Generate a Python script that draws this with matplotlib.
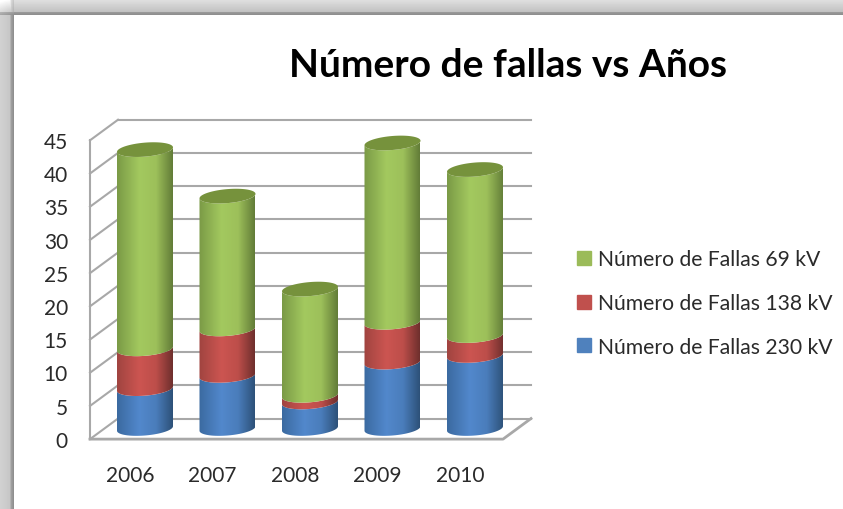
import numpy as np
import matplotlib
matplotlib.use('Agg')
import matplotlib.pyplot as plt
from matplotlib.path import Path
from matplotlib.patches import PathPatch, Patch
from matplotlib.colors import LinearSegmentedColormap

plt.rcParams['font.family'] = ['Lato', 'DejaVu Sans']

years = ['2006', '2007', '2008', '2009', '2010']
fallas_230 = [6, 8, 4, 10, 11]
fallas_138 = [6, 7, 1, 6, 3]
fallas_69 = [30, 20, 16, 27, 25]
yticks = [0, 5, 10, 15, 20, 25, 30, 35, 40, 45]
title = 'Número de fallas vs Años'
series_names = ['Número de Fallas 69 kV', 'Número de Fallas 138 kV', 'Número de Fallas 230 kV']

W, H = 843, 510
X0, DX = 145.0, 82.5     # px of first cylinder centre, px per category
Y0, DY = 429.5, 6.64     # px of value 0 at cylinder depth, px per unit


def ux(px):
    return (px - X0) / DX


def uy(py):
    return (Y0 - py) / DY


fig = plt.figure(figsize=(W / 100, H / 100), dpi=100, facecolor='white')
ax = fig.add_axes([0, 0, 1, 1])
ax.axis('off')

# grey window edge round the chart
gx = np.arange(W)
gy = np.arange(H)
top = np.interp(gy, [0, 12, 13, 15, 16], [0.88, 0.76, 0.60, 0.56, 1.0])
left = np.interp(gx, [0, 9, 11, 13, 14], [0.82, 0.78, 0.62, 0.56, 1.0])
band = np.minimum.outer(top, np.ones(W))
band = np.minimum(band, np.where(gy[:, None] >= 14, left[None, :], 1.0))
band[:16, :14] = np.minimum(top[:16, None], left[None, :14] + 0.12)
corner = np.clip(np.hypot(gx[:14, None] - 14, gy[:16, None].T - 16) / 20, 0, 1)
band[:16, :14] = band[:16, :14] + corner.T * 0.14
ax.imshow(band, cmap='gray', vmin=0, vmax=1, extent=[ux(0), ux(W), uy(H), uy(0)],
          aspect='auto', zorder=0, interpolation='bilinear')

# depth of walls, in axis units
grid = '#a8a8a8'
back_l, back_r = ux(118), ux(531)
front_l, front_r = ux(90), ux(503)
back_dy = 1.5
front_dy = -1.6
for t in yticks:
    ax.plot([back_l, back_r], [t + back_dy] * 2, color=grid, lw=1.5, zorder=1)
    ax.plot([front_l, back_l], [t + front_dy, t + back_dy], color=grid, lw=1.5, zorder=1)
    ax.text(ux(68), t + front_dy - 0.25, str(t), ha='right', va='center', fontsize=15, color='#2a2a2a')
ax.plot([front_l, front_l], [yticks[0] + front_dy, yticks[-1] + front_dy], color=grid, lw=1.5, zorder=1)
ax.plot([front_l, front_r, back_r], [front_dy, front_dy, back_dy], color=grid, lw=2, zorder=1)

for i, y in enumerate(years):
    ax.text(i - 15 / DX, uy(476), y, ha='center', va='center', fontsize=15, color='#2a2a2a')

# cylinders
half_w = 28.0 / DX
half_h = 7.0 / DY
shear = 0.08 * 28.0 / DY
colours = {
    'green': ['#7a9a46', '#a3c95f', '#9dc05a', '#627c38'],
    'red': ['#a04440', '#cc5551', '#bd4e4a', '#6e2f2d'],
    'blue': ['#3b6aa0', '#5288cc', '#4a7dbb', '#2d5178'],
}
cap_colour = '#76923c'


def arc(i, v, t):
    return np.column_stack([i + half_w * np.cos(t), v + half_h * np.sin(t) + shear * np.cos(t)])


def draw_segment(i, lo, hi, name):
    t_lo = np.linspace(np.pi, 2 * np.pi, 40)
    t_hi = t_lo[::-1]
    pts = np.vstack([arc(i, lo, t_lo), arc(i, hi, t_hi)])
    path = Path(np.vstack([pts, pts[0]]), closed=True)
    cmap = LinearSegmentedColormap.from_list(name, list(zip([0, 0.4, 0.7, 1], colours[name])))
    im = ax.imshow(np.linspace(0, 1, 128)[None, :], cmap=cmap, aspect='auto', zorder=3,
                   extent=[i - half_w, i + half_w, lo - half_h - shear, hi + half_h + shear])
    im.set_clip_path(PathPatch(path, transform=ax.transData))


for i in range(len(years)):
    b = fallas_230[i]
    r = b + fallas_138[i]
    g = r + fallas_69[i]
    draw_segment(i, 0, b, 'blue')
    draw_segment(i, b, r, 'red')
    draw_segment(i, r, g, 'green')
    t = np.linspace(0, 2 * np.pi, 80)
    ax.add_patch(PathPatch(Path(arc(i, g, t)), fc=cap_colour, ec='none', zorder=4))

ax.set_xlim(ux(0), ux(W))
ax.set_ylim(uy(H), uy(0))

ax.text(ux(508), uy(66), title, ha='center', va='center', fontsize=28, fontweight='bold', color='black')

handles = [Patch(color=c) for c in ['#9bbb59', '#c0504d', '#4f81bd']]
fig.legend(handles, series_names, loc='center left', bbox_to_anchor=(577 / W, 1 - 304 / H), frameon=False,
           fontsize=15.2, labelcolor='#2a2a2a', handlelength=0.65, handleheight=0.65, handletextpad=0.33,
           labelspacing=1.12, borderpad=0, borderaxespad=0)

fig.savefig('out.png', dpi=100)
